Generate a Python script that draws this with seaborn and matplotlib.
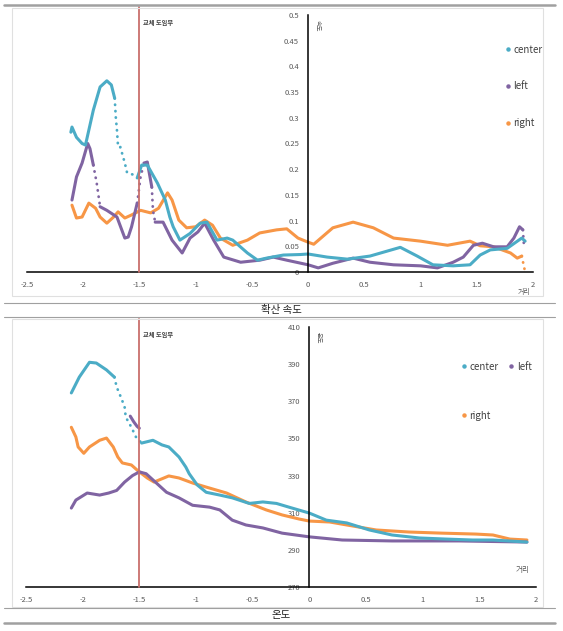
import numpy as np
import pandas as pd
import seaborn as sns
import matplotlib.pyplot as plt
from matplotlib.lines import Line2D
from matplotlib.patches import Rectangle

sns.set_style("white")
plt.rcParams['font.family'] = ['Noto Sans CJK KR', 'DejaVu Sans']

# colours (Excel style palette)
C_CENTER = "#4bacc6"
C_LEFT = "#8064a2"
C_RIGHT = "#f79646"
C_MARK = "#c9706c"

# ---- 확산 속도 (top chart) ----
speed_center_x = [-2.11, -2.10, -2.06, -2.01, -1.98, -1.91, -1.85, -1.79, -1.75, -1.72,
                  -1.71, -1.70, -1.69, -1.67, -1.63, -1.61, -1.55, -1.52, -1.48, -1.43,
                  -1.34, -1.27, -1.23, -1.20, -1.14, -1.05, -0.96, -0.90, -0.81, -0.72,
                  -0.67, -0.54, -0.45, -0.37, -0.22, -0.07, 0.0, 0.17, 0.35, 0.55,
                  0.82, 0.97, 1.11, 1.29, 1.44, 1.53, 1.62, 1.77, 1.90, 1.93]
speed_center = [0.272, 0.282, 0.262, 0.250, 0.247, 0.315, 0.360, 0.372, 0.364, 0.338,
                0.300, 0.276, 0.243, 0.243, 0.212, 0.193, 0.189, 0.183, 0.208, 0.208,
                0.173, 0.140, 0.107, 0.088, 0.062, 0.075, 0.095, 0.097, 0.062, 0.066,
                0.062, 0.037, 0.023, 0.027, 0.033, 0.034, 0.035, 0.029, 0.025, 0.031,
                0.048, 0.031, 0.014, 0.012, 0.014, 0.033, 0.043, 0.046, 0.066, 0.060]

speed_left_x = [-2.10, -2.06, -2.01, -1.96, -1.94, -1.91, -1.88, -1.85, -1.79, -1.70,
                -1.63, -1.60, -1.57, -1.52, -1.49, -1.46, -1.43, -1.39, -1.38, -1.36,
                -1.29, -1.21, -1.12, -1.05, -0.98, -0.92, -0.84, -0.75, -0.60, -0.43,
                -0.31, -0.19, 0.0, 0.09, 0.22, 0.40, 0.55, 0.76, 1.00, 1.15,
                1.29, 1.38, 1.47, 1.55, 1.65, 1.77, 1.83, 1.88, 1.91, 1.92]
speed_left = [0.140, 0.185, 0.212, 0.250, 0.240, 0.208, 0.173, 0.127, 0.120, 0.107,
              0.066, 0.068, 0.088, 0.134, 0.185, 0.212, 0.214, 0.165, 0.120, 0.097,
              0.097, 0.062, 0.037, 0.066, 0.078, 0.095, 0.062, 0.029, 0.019, 0.023,
              0.029, 0.023, 0.014, 0.008, 0.017, 0.027, 0.019, 0.014, 0.012, 0.008,
              0.019, 0.029, 0.052, 0.056, 0.049, 0.049, 0.066, 0.088, 0.082, 0.050]

speed_right_x = [-2.10, -2.06, -2.01, -1.95, -1.89, -1.85, -1.79, -1.73, -1.69, -1.63,
                 -1.57, -1.49, -1.40, -1.33, -1.25, -1.21, -1.15, -1.08, -1.00, -0.92,
                 -0.85, -0.78, -0.67, -0.54, -0.43, -0.28, -0.19, -0.09, 0.0, 0.05,
                 0.22, 0.40, 0.58, 0.76, 1.00, 1.24, 1.44, 1.53, 1.65, 1.80,
                 1.86, 1.90, 1.93]
speed_right = [0.130, 0.105, 0.107, 0.134, 0.124, 0.107, 0.095, 0.107, 0.117, 0.105,
               0.111, 0.120, 0.115, 0.124, 0.154, 0.140, 0.101, 0.086, 0.088, 0.101,
               0.091, 0.066, 0.052, 0.062, 0.076, 0.082, 0.084, 0.066, 0.058, 0.054,
               0.086, 0.097, 0.086, 0.066, 0.060, 0.052, 0.060, 0.051, 0.049, 0.037,
               0.027, 0.031, 0.000]

# ---- 온도 (bottom chart) ----
temp_center_x = [-2.10, -2.03, -1.94, -1.88, -1.79, -1.72, -1.70, -1.66, -1.63, -1.62,
                 -1.57, -1.53, -1.48, -1.38, -1.30, -1.24, -1.15, -1.09, -1.06, -0.99,
                 -0.91, -0.79, -0.68, -0.53, -0.41, -0.29, -0.18, 0.0, 0.15, 0.33,
                 0.53, 0.73, 0.97, 1.21, 1.44, 1.62, 1.92]
temp_center = [374.5, 383.0, 391.0, 390.6, 386.9, 383.0, 377.7, 371.8, 367.0, 361.5,
               356.0, 350.8, 347.5, 349.0, 346.5, 345.4, 340.0, 334.6, 331.0, 325.0,
               321.0, 319.5, 318.0, 315.0, 315.8, 315.0, 313.0, 309.8, 306.0, 304.5,
               300.7, 298.0, 296.4, 295.8, 295.3, 295.3, 294.2]

temp_left_seg_x = [-1.58, -1.55, -1.52, -1.50]
temp_left_seg = [362.0, 359.0, 356.5, 355.5]

temp_left_x = [-2.10, -2.06, -1.96, -1.85, -1.77, -1.70, -1.63, -1.56, -1.50, -1.44,
               -1.35, -1.26, -1.15, -1.03, -0.88, -0.79, -0.68, -0.56, -0.41, -0.24,
               0.0, 0.29, 0.73, 1.32, 1.92]
temp_left = [312.5, 316.8, 320.6, 319.5, 320.6, 322.0, 326.5, 330.0, 332.0, 331.0,
             326.0, 321.0, 318.0, 314.0, 313.0, 311.5, 306.0, 303.4, 301.8, 299.0,
             297.0, 295.3, 294.8, 294.8, 294.2]

temp_right_x = [-2.10, -2.06, -2.04, -1.99, -1.94, -1.85, -1.79, -1.73, -1.69, -1.65,
                -1.57, -1.52, -1.50, -1.43, -1.37, -1.24, -1.15, -1.03, -0.91, -0.73,
                -0.56, -0.38, -0.24, -0.09, 0.0, 0.18, 0.33, 0.59, 0.88, 1.17,
                1.47, 1.62, 1.77, 1.92]
temp_right = [356.0, 350.8, 345.4, 342.0, 345.4, 349.0, 350.2, 345.4, 340.0, 336.8,
              335.7, 333.0, 332.0, 328.7, 326.5, 329.8, 328.7, 326.0, 323.8, 320.6,
              315.8, 311.5, 308.8, 306.6, 305.5, 305.0, 303.4, 300.7, 299.6, 299.0,
              298.5, 298.0, 295.8, 295.3]

# x-ranges where the recorded points are sparse (drawn as loose dots)
speed_center_sparse = [(-1.72, -1.52)]
speed_left_sparse = [(-1.91, -1.85), (-1.52, -1.46), (-1.39, -1.36), (1.91, 1.92)]
speed_right_sparse = [(1.90, 1.93)]
temp_center_sparse = [(-1.72, -1.48)]

W, H = 563, 631
fig = plt.figure(figsize=(W / 100, H / 100), dpi=100)


def fx(px):
    return px / W


def fy(py):
    return 1 - py / H


def plot_series(ax, x, y, c, sparse=()):
    x = np.asarray(x)
    y = np.asarray(y)
    n = len(x)
    # label each step between points i and i+1 as sparse or dense
    step_sparse = [any(a <= x[i] and x[i + 1] <= b for a, b in sparse) for i in range(n - 1)]
    start = 0
    for i in range(1, n):
        if i == n - 1 or step_sparse[i] != step_sparse[start]:
            seg = slice(start, i + 1)
            df = pd.DataFrame({"x": x[seg], "y": y[seg]})
            if step_sparse[start]:
                sns.lineplot(data=df, x="x", y="y", ax=ax, color=c, linewidth=2.0,
                             sort=False, linestyle=(0, (0.1, 2.2)),
                             dash_capstyle="round")
            else:
                sns.lineplot(data=df, x="x", y="y", ax=ax, color=c, linewidth=2.2,
                             sort=False, solid_capstyle="round")
            start = i


def draw_chart(ax, series, ylim, yticks, ylab, marker_y):
    for x, y, c, sp in series:
        plot_series(ax, x, y, c, sp)
    ax.set_xlim(-2.5, 2.0)
    ax.set_ylim(*ylim)
    ax.set_xticks([-2.5, -2, -1.5, -1, -0.5, 0, 0.5, 1, 1.5, 2])
    ax.set_xticklabels(["-2.5", "-2", "-1.5", "-1", "-0.5", "0", "0.5", "1", "1.5", "2"])
    ax.set_yticks(yticks)
    ax.set_xlabel("")
    ax.set_ylabel("")
    ax.patch.set_alpha(0)
    for s in ["top", "right"]:
        ax.spines[s].set_visible(False)
    ax.spines["left"].set_position(("data", 0))
    ax.spines["bottom"].set_position(("data", ylim[0]))
    for s in ["left", "bottom"]:
        ax.spines[s].set_color("black")
        ax.spines[s].set_linewidth(1.1)
    ax.tick_params(axis="both", direction="inout", length=5, width=1.1,
                   labelsize=5.5, colors="black", pad=4)
    for lab in ax.get_xticklabels() + ax.get_yticklabels():
        lab.set_color("#595959")
    ax.axvline(-1.5, ymin=0, ymax=marker_y, color=C_MARK, linewidth=1.3,
               clip_on=False, zorder=5)
    ax.text(-1.47, ylim[0] + (ylim[1] - ylim[0]) * 0.985, "교체 도입부", fontsize=4.5,
            fontweight="bold", color="#404040", ha="left", va="top")
    ax.text(0.05, ylim[1] - (ylim[1] - ylim[0]) * 0.02, ylab, fontsize=4.5,
            rotation=270, color="#595959", ha="left", va="top")


# top chart
ax1 = fig.add_axes([fx(27), fy(272), fx(533) - fx(27), fy(15) - fy(272)])
draw_chart(ax1,
           [(speed_right_x, speed_right, C_RIGHT, speed_right_sparse),
            (speed_left_x, speed_left, C_LEFT, speed_left_sparse),
            (speed_center_x, speed_center, C_CENTER, speed_center_sparse)],
           (0, 0.5), [0, 0.05, 0.1, 0.15, 0.2, 0.25, 0.3, 0.35, 0.4, 0.45, 0.5],
           "속도", 1.031)
ax1.set_yticklabels(["0", "0.05", "0.1", "0.15", "0.2", "0.25", "0.3", "0.35", "0.4", "0.45", "0.5"])
ax1.text(1.92, -0.032, "거리", fontsize=5, color="#595959", ha="center", va="top")

# bottom chart
ax2 = fig.add_axes([fx(26), fy(587), fx(536) - fx(26), fy(327) - fy(587)])
draw_chart(ax2,
           [(temp_right_x, temp_right, C_RIGHT, ()),
            (temp_left_x, temp_left, C_LEFT, ()),
            (temp_left_seg_x, temp_left_seg, C_LEFT, ()),
            (temp_center_x, temp_center, C_CENTER, temp_center_sparse)],
           (270, 410), [270, 290, 310, 330, 350, 370, 390, 410],
           "온도", 1.031)
ax2.text(1.88, 277, "거리", fontsize=5.5, color="#595959", ha="center", va="bottom")


def legend_handle(c, label):
    return Line2D([], [], marker="o", linestyle="none", markersize=2.2,
                  markerfacecolor=c, markeredgecolor=c, label=label)


h_c = legend_handle(C_CENTER, "center")
h_l = legend_handle(C_LEFT, "left")
h_r = legend_handle(C_RIGHT, "right")

fig.legend(handles=[h_c, h_l, h_r], loc="upper left",
           bbox_to_anchor=(fx(495), fy(36)), frameon=False, fontsize=7,
           labelspacing=2.75, handletextpad=0.2, handlelength=0.8,
           labelcolor="#404040")
fig.legend(handles=[h_c, h_r, h_l], loc="upper left", ncol=2,
           bbox_to_anchor=(fx(451), fy(353)), frameon=False, fontsize=7,
           labelspacing=4.0, handletextpad=0.2, handlelength=0.8,
           columnspacing=0.9, labelcolor="#404040")

# chart frames
for top, bot in [(8, 296), (319, 607)]:
    fig.add_artist(Rectangle((fx(12), fy(bot)), fx(543) - fx(12), fy(top) - fy(bot),
                             transform=fig.transFigure, fill=False,
                             edgecolor="#e0e0e0", linewidth=0.8))

# page rules and captions
rules = [(5, 1.8, "#a0a0a0"), (303, 0.8, "#a0a0a0"), (317, 0.8, "#a0a0a0"),
         (608, 0.8, "#a0a0a0"), (623, 1.8, "#a0a0a0")]
for y, lw, c in rules:
    fig.add_artist(Line2D([fx(4), fx(555)], [fy(y), fy(y)], transform=fig.transFigure,
                          color=c, linewidth=lw))
fig.text(fx(281), fy(310), "확산 속도", fontsize=7.5, ha="center", va="center", color="#202020")
fig.text(fx(281), fy(615), "온도", fontsize=7.5, ha="center", va="center", color="#202020")

fig.savefig("out.png", dpi=100)
